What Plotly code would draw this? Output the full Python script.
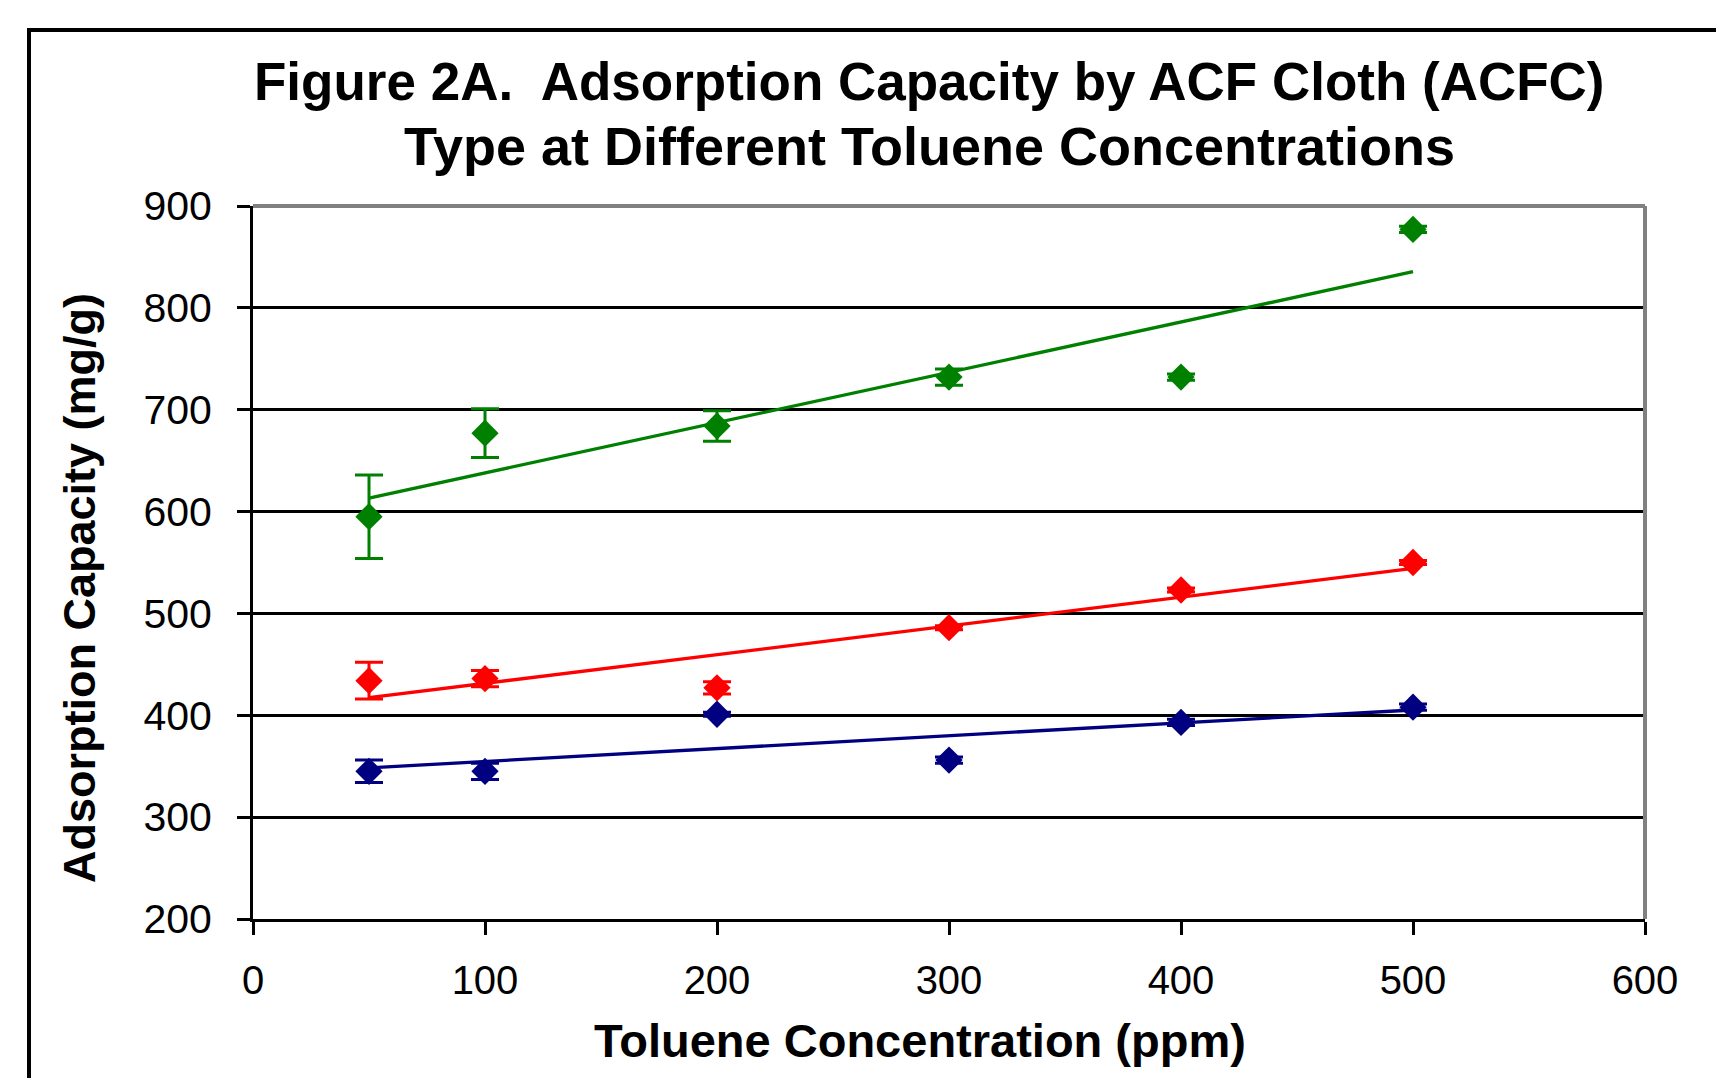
import numpy as np
import plotly.graph_objects as go

# Toluene concentration (ppm)
concentration = [50, 100, 200, 300, 400, 500]

# Adsorption capacity (mg/g) and error-bar half-widths for the three ACF cloths
green_capacity = [595, 677, 684, 732, 732, 877]
green_error = [41, 24, 15, 8, 3, 3]

red_capacity = [434, 436, 427, 486, 523, 550]
red_error = [18, 8, 6, 2, 2, 2]

blue_capacity = [345, 345, 401, 356, 393, 408]
blue_error = [11, 8, 2, 3, 3, 3]

x_ticks = [0, 100, 200, 300, 400, 500, 600]
y_ticks = [200, 300, 400, 500, 600, 700, 800, 900]

title_lines = [
    "Figure 2A.  Adsorption Capacity by ACF Cloth (ACFC)",
    "Type at Different Toluene Concentrations",
]

series = [
    (green_capacity, green_error, "#008000"),
    (red_capacity, red_error, "#FF0000"),
    (blue_capacity, blue_error, "#000080"),
]

FONT = "Liberation Sans, Arial, sans-serif"

fig = go.Figure()

for values, errors, color in series:
    # linear least-squares trendline over the measured range
    slope, intercept = np.polyfit(concentration, values, 1)
    x_fit = [min(concentration), max(concentration)]
    y_fit = [slope * v + intercept for v in x_fit]
    fig.add_trace(go.Scatter(
        x=x_fit, y=y_fit, mode="lines",
        line=dict(color=color, width=3.3),
        hoverinfo="skip", showlegend=False,
    ))
    fig.add_trace(go.Scatter(
        x=concentration, y=values, mode="markers",
        marker=dict(symbol="diamond", size=21, color=color,
                    line=dict(width=0)),
        error_y=dict(type="data", array=errors, visible=True,
                     color=color, thickness=3, width=14),
        showlegend=False,
    ))

W, H = 1716, 1078
L, R, T, B = 253, 71, 206, 159
pw, ph = W - L - R, H - T - B


def px_to_paper_x(px):
    return (px - L) / pw


def px_to_paper_y(py):
    return (H - B - py) / ph


annotations = [
    dict(text="<b>Toluene Concentration (ppm)</b>",
         x=px_to_paper_x(920), y=px_to_paper_y(1040),
         xref="paper", yref="paper", xanchor="center", yanchor="middle",
         showarrow=False, font=dict(family=FONT, size=47, color="black")),
    dict(text="<b>Adsorption Capacity (mg/g)</b>",
         x=px_to_paper_x(79), y=px_to_paper_y(588), textangle=-90,
         xref="paper", yref="paper", xanchor="center", yanchor="middle",
         showarrow=False, font=dict(family=FONT, size=45, color="black")),
]
# two-line chart title
for line, y_px, size in zip(title_lines, [82, 146], [53, 54]):
    annotations.append(dict(
        text=f"<b>{line}</b>",
        x=px_to_paper_x(929), y=px_to_paper_y(y_px),
        xref="paper", yref="paper", xanchor="center", yanchor="middle",
        showarrow=False, font=dict(family=FONT, size=size, color="black"),
    ))

fig.update_layout(
    width=W, height=H,
    margin=dict(l=L, r=R, t=T, b=B, pad=0),
    paper_bgcolor="white", plot_bgcolor="white",
    font=dict(family=FONT, color="black"),
    xaxis=dict(
        range=[0, 600], tickvals=x_ticks, ticktext=[str(v) for v in x_ticks],
        showgrid=False, zeroline=False,
        showline=True, linecolor="black", linewidth=3,
        ticks="outside", ticklen=13, tickwidth=3, tickcolor="black",
        tickfont=dict(family=FONT, size=40, color="black"),
        ticklabelstandoff=11,
    ),
    yaxis=dict(
        range=[200, 900], tickvals=y_ticks, ticktext=[str(v) for v in y_ticks],
        showgrid=True, gridcolor="black", gridwidth=3,
        zeroline=False,
        showline=True, linecolor="black", linewidth=3,
        ticks="outside", ticklen=13, tickwidth=3, tickcolor="black",
        tickfont=dict(family=FONT, size=41, color="black"),
        ticklabelstandoff=17,
    ),
    annotations=annotations,
    shapes=[
        # grey frame on the top and right of the plot area
        dict(type="line", xref="paper", yref="paper", x0=0, x1=1, y0=1, y1=1,
             line=dict(color="#808080", width=4), layer="above"),
        dict(type="line", xref="paper", yref="paper", x0=1, x1=1, y0=0, y1=1,
             line=dict(color="#808080", width=4), layer="above"),
        # outer chart border
        dict(type="rect", xref="paper", yref="paper",
             x0=px_to_paper_x(29), x1=px_to_paper_x(1740),
             y0=px_to_paper_y(1100), y1=px_to_paper_y(30),
             line=dict(color="black", width=4), fillcolor="rgba(0,0,0,0)",
             layer="above"),
    ],
)

fig.write_html("out.html")
